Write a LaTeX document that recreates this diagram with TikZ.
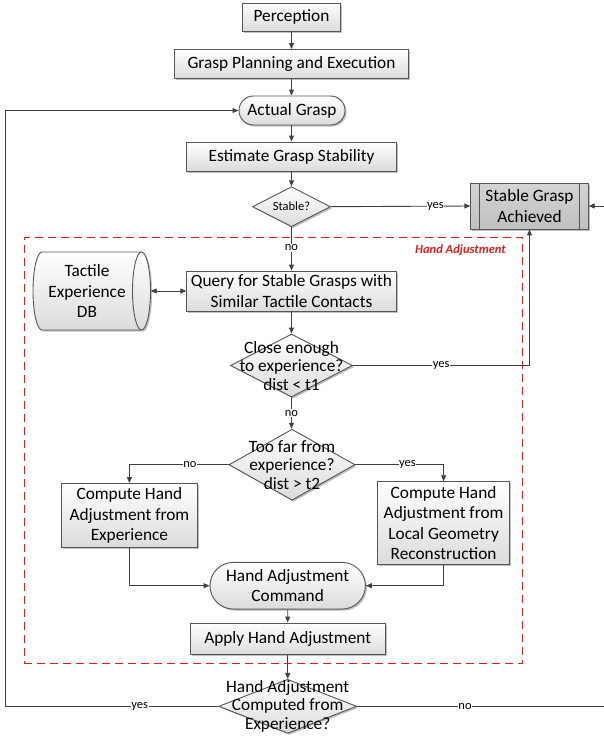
\documentclass[tikz,border=0pt]{standalone}
\usepackage{fontspec}
\setmainfont{Carlito}
\usetikzlibrary{arrows.meta,shapes.geometric,shapes.misc,shadows}
\definecolor{ln}{HTML}{404040}
\definecolor{bd}{HTML}{555555}
\definecolor{hred}{HTML}{E01E1E}
\newcommand{\fmain}{\fontsize{17.3}{20.5}\selectfont}
\newcommand{\fdia}{\fontsize{17.3}{18.5}\selectfont}
\newcommand{\fsmall}{\fontsize{12.5}{14}\selectfont}
\begin{document}
\begin{tikzpicture}[x=1pt,y=-1pt,
  shd/.style={drop shadow={shadow xshift=1.6pt,shadow yshift=-1.6pt,fill=black,opacity=0.25}},
  proc/.style={rectangle,draw=bd,line width=0.9pt,top color=white,bottom color=black!14,shd,inner sep=0pt,align=center,font=\fmain},
  term/.style={proc,rounded rectangle},
  dec/.style={diamond,draw=bd,line width=0.9pt,top color=white,bottom color=black!14,shd,inner sep=0pt},
  dtext/.style={align=center,font=\fdia,inner sep=0pt},
  arr/.style={draw=ln,line width=0.9pt,-{Triangle[length=6pt,width=5pt]}},
  lbl/.style={font=\fsmall,fill=white,inner sep=0.6pt}
]
\useasboundingbox (0,0) rectangle (604,736);
\clip (0,0) rectangle (604,736);

% hand adjustment frame
\node[draw=hred,line width=1pt,dash pattern=on 8pt off 5pt,rectangle,minimum width=498.4pt,minimum height=426pt,inner sep=0pt] (frame) at (273.5,450.7) {};
\node[font=\fsmall\bfseries\itshape,text=hred,anchor=east,inner sep=0pt] (hal) at (506,250) {Hand Adjustment};

% nodes
\node[proc,minimum width=98pt,minimum height=28pt] (perc) at (291.5,17) {Perception};
\node[proc,minimum width=234pt,minimum height=29pt] (gpe) at (291.5,64) {Grasp Planning and Execution};
\node[term,minimum width=106pt,minimum height=29pt] (ag) at (292,110.5) {Actual Grasp};
\node[proc,minimum width=210pt,minimum height=29pt] (egs) at (291.5,156.5) {Estimate Grasp Stability};
\node[dec,minimum width=78pt,minimum height=40pt] (stable) at (291.5,206.7) {};
\node[dtext,font=\fsmall] (stablet) at (291.5,206.7) {Stable?};
\node[proc,minimum width=117.5pt,minimum height=46pt,top color=black!17,bottom color=black!25] (sga) at (529.5,206) {Stable Grasp\\Achieved};
\draw[bd,line width=0.9pt] ([xshift=9.6pt]sga.north west) -- ([xshift=9.6pt]sga.south west);
\draw[bd,line width=0.9pt] ([xshift=-9.6pt]sga.north east) -- ([xshift=-9.6pt]sga.south east);

% database
\draw[draw=bd,line width=0.9pt,top color=white,bottom color=black!14,shd]
  (42,252) -- (141.5,252) arc[start angle=-90,end angle=90,x radius=9,y radius=39]
  -- (42,330) arc[start angle=90,end angle=270,x radius=9,y radius=39] -- cycle;
\draw[draw=bd,line width=0.9pt] (141.5,252) arc[start angle=-90,end angle=-270,x radius=9,y radius=39];
\node[inner sep=0pt,minimum width=117.5pt,minimum height=78pt] (db) at (91.75,291) {};
\node[align=center,font=\fmain,inner sep=0pt] (dbt) at (87,291) {Tactile\\Experience\\DB};

\node[proc,minimum width=209.5pt,minimum height=40pt] (query) at (291.5,291) {Query for Stable Grasps with\\Similar Tactile Contacts};
\node[dec,minimum width=122pt,minimum height=63pt] (close) at (291.5,365.5) {};
\node[dtext] (closet) at (291.5,365.7) {Close enough\\to experience?\\dist < t1};
\node[dec,minimum width=126pt,minimum height=71pt] (far) at (292,464.7) {};
\node[dtext] (fart) at (292,465) {Too far from\\experience?\\dist > t2};
\node[proc,minimum width=136.5pt,minimum height=64pt] (cl) at (129.4,515.5) {Compute Hand\\Adjustment from\\Experience};
\node[proc,minimum width=132pt,minimum height=82.6pt] (cr) at (443.6,523) {Compute Hand\\Adjustment from\\Local Geometry\\Reconstruction};
\node[term,minimum width=155.4pt,minimum height=46.7pt] (hac) at (287.7,585.7) {Hand Adjustment\\Command};
\node[proc,minimum width=194.6pt,minimum height=31.7pt] (apply) at (287.7,638.8) {Apply Hand Adjustment};
\node[dec,minimum width=138pt,minimum height=54pt] (final) at (287.7,706.3) {};
\node[dtext] (finalt) at (287.7,706.3) {Hand Adjustment\\Computed from\\Experience?};

\coordinate (lft) at (5.8,706.3);
\coordinate (rgt) at (614,706.3);

% connectors
\draw[arr] (perc) -- (gpe);
\draw[arr] (gpe.south) -- (gpe.south |- ag.north);
\draw[arr] (ag.south -| egs.north) -- (egs.north);
\draw[arr] (egs) -- (stable);
\draw[arr] (stable.east) -- node[lbl,pos=0.75]{yes} (sga.west);
\draw[arr] (stable.south) -- node[lbl,pos=0.48]{no} (query.north);
\draw[draw=ln,line width=0.9pt,{Triangle[length=6pt,width=5pt]}-{Triangle[length=6pt,width=5pt]}] (db.east) -- (query.west);
\draw[arr] (query) -- (close);
\draw[arr] (close.east) -- node[lbl]{yes} (close.east -| sga.south) -- (sga.south);
\draw[arr] (close.south) -- node[lbl]{no} (close.south |- far.north);
\draw[arr] (far.west) -- node[lbl,pos=0.39]{no} (far.west -| cl.north) -- (cl.north);
\draw[arr] (far.east) -- node[lbl,pos=0.59]{yes} (far.east -| cr.north) -- (cr.north);
\draw[arr] (cl.south) |- (hac.west);
\draw[arr] (cr.south) |- (hac.east);
\draw[arr] (hac) -- (apply);
\draw[arr] (apply) -- (final);
\draw[arr] (final.west) -- node[lbl,pos=0.37]{yes} (lft) |- (ag.west);
\draw[arr] (final.east) -- node[lbl,pos=0.42]{no} (rgt) |- (sga.east);
\end{tikzpicture}
\end{document}
